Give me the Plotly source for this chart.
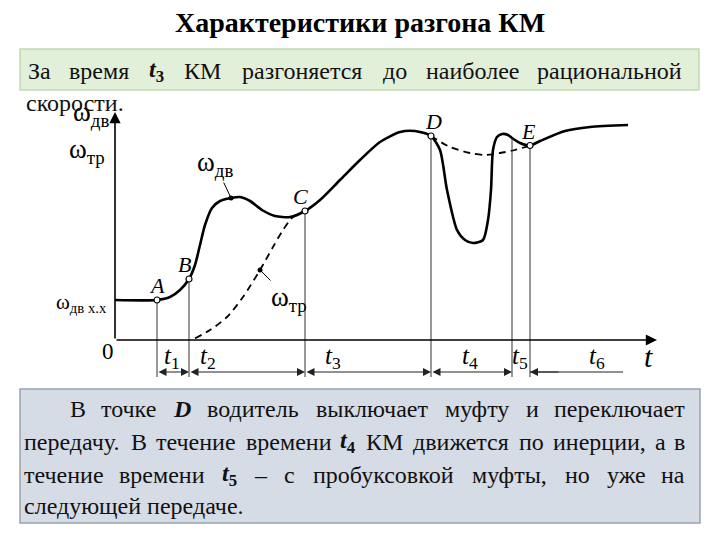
import plotly.graph_objects as go

# ---------------- data (t: time units, w: angular speed units) ----------------
t_engine = [0, 4.2, 5.5, 6.5, 7.4, 8.0, 8.5, 9.0, 9.7, 10.5, 11.6, 12.5, 13.5, 14.7,
            16.0, 17.5, 19.0, 20.5, 22.5, 24.5, 26.5, 28.5, 30.0, 31.6, 32.5, 33.2,
            34.2, 35.0, 35.8, 36.8, 37.3, 37.6, 37.8, 38.2, 38.7, 39.3, 39.7, 40.5,
            41.5, 42.5, 45.0, 47.5, 51.3]
w_engine = [4.0, 4.0, 4.3, 5.0, 6.1, 7.5, 9.5, 11.5, 13.2, 13.9, 14.2, 14.3, 13.9, 13.0,
            12.4, 12.3, 12.9, 14.0, 16.0, 18.0, 19.8, 20.8, 20.9, 20.4, 19.0, 15.0,
            11.0, 10.0, 9.7, 10.0, 12.0, 15.0, 19.0, 20.3, 20.6, 20.5, 20.2, 19.7,
            19.45, 19.9, 20.9, 21.3, 21.5]

t_trans_up = [8.0, 9.5, 11.2, 12.8, 14.5, 15.8, 16.8, 17.8, 19.0]
w_trans_up = [0.17, 1.0, 2.3, 4.3, 7.0, 9.3, 11.0, 12.3, 12.9]

t_trans_coast = [31.6, 33.5, 35.5, 37.0, 38.5, 40.0, 41.5]
w_trans_coast = [20.4, 19.3, 18.7, 18.5, 18.7, 19.0, 19.45]

point_names = ["A", "B", "C", "D", "E"]
point_t = [4.2, 7.4, 19.0, 31.6, 41.5]
point_w = [4.0, 6.1, 12.9, 20.4, 19.45]

bound_t = [4.2, 7.4, 19.0, 31.6, 39.7, 41.5]
bound_w = [4.0, 6.1, 12.9, 20.4, 20.2, 19.45]

interval_names = ["t<sub>1</sub>", "t<sub>2</sub>", "t<sub>3</sub>", "t<sub>4</sub>", "t<sub>5</sub>", "t<sub>6</sub>"]
interval_label_t = [5.7, 9.3, 21.8, 35.5, 40.5, 48.2]
dim_segments = [(4.2, 7.4), (7.4, 19.0), (19.0, 31.6), (31.6, 39.7)]
t6_segment = (41.5, 50.8)

leader_dots_t = [11.6, 14.5]
leader_dots_w = [14.2, 7.0]

title_text = "Характеристики разгона КМ"
green_words = ["За", "время", "<b><i>t</i><sub>3</sub></b>", "КМ", "разгоняется", "до",
               "наиболее", "рациональной"]
green_tail = "скорости."
blue_lines = [
    ["В", "точке", "<b><i>D</i></b>", "водитель", "выключает", "муфту", "и", "переключает"],
    ["передачу.", "В", "течение", "времени", "<b><i>t</i><sub>4</sub></b>", "КМ", "движется",
     "по", "инерции,", "а", "в"],
    ["течение", "времени", "<b><i>t</i><sub>5</sub></b>", "–", "с", "пробуксовкой", "муфты,",
     "но", "уже", "на"],
]
blue_last = "следующей передаче."

# ---------------- helpers ----------------
SERIF = "Liberation Serif, Times New Roman, DejaVu Serif, serif"
W, H = 720, 540
CW = {' ': 250, '.': 250, ',': 250, '–': 500,
      'а': 444, 'б': 509, 'в': 472, 'г': 410, 'д': 509, 'е': 444, 'ж': 691, 'з': 395,
      'и': 535, 'й': 535, 'к': 486, 'л': 499, 'м': 633, 'н': 535, 'о': 500, 'п': 535,
      'р': 500, 'с': 444, 'т': 437, 'у': 500, 'ф': 648, 'х': 500, 'ц': 535, 'ч': 503,
      'ш': 770, 'щ': 770, 'ъ': 517, 'ы': 672, 'ь': 456, 'э': 429, 'ю': 747, 'я': 486,
      'В': 667, 'К': 700, 'М': 889, 'З': 500}


def word_em(word):
    if word.startswith("<b><i>t"):
        return 0.63
    if word.startswith("<b><i>D"):
        return 0.72
    return sum(CW.get(c, 500) for c in word) / 1000.0


def px(x):
    return x / W


def py(y):
    return 1 - y / H


annotations = []


def justified(words, left, right, ycen, size):
    widths = [word_em(w) * size for w in words]
    gap = (right - left - sum(widths)) / (len(words) - 1)
    x = left
    for i, (w, wd) in enumerate(zip(words, widths)):
        if i == 0:
            xa, anchor = left, "left"
        elif i == len(words) - 1:
            xa, anchor = right, "right"
        else:
            xa, anchor = x + wd / 2, "center"
        annotations.append(dict(text=w, x=px(xa), y=py(ycen), xref="paper", yref="paper",
                                xanchor=anchor, yanchor="middle", showarrow=False,
                                font=dict(family=SERIF, size=size, color="#111")))
        x += wd + gap


fig = go.Figure()

# main engine speed curve
fig.add_trace(go.Scatter(x=t_engine, y=w_engine, mode="lines",
                         line=dict(color="black", width=2.6, shape="spline", smoothing=0.7),
                         hoverinfo="skip"))
# transmission speed (dashed)
for tt, ww in [(t_trans_up, w_trans_up), (t_trans_coast, w_trans_coast)]:
    fig.add_trace(go.Scatter(x=tt, y=ww, mode="lines",
                             line=dict(color="black", width=1.8, dash="7px,5px",
                                       shape="spline", smoothing=0.8),
                             hoverinfo="skip"))

# boundary lines
BOTTOM = -3.7
bx, by = [], []
for t, w in zip(bound_t, bound_w):
    bx += [t, t, None]
    by += [w, BOTTOM, None]
fig.add_trace(go.Scatter(x=bx, y=by, mode="lines", line=dict(color="#333", width=1),
                         hoverinfo="skip"))

# t6 plain line part
fig.add_trace(go.Scatter(x=list(t6_segment), y=[-3.2, -3.2], mode="lines",
                         line=dict(color="#222", width=1), hoverinfo="skip"))

# open circle points
fig.add_trace(go.Scatter(x=point_t, y=point_w, mode="markers",
                         marker=dict(symbol="circle", size=6, color="white",
                                     line=dict(color="black", width=1.2)),
                         hoverinfo="skip"))
# leader dots
fig.add_trace(go.Scatter(x=leader_dots_t, y=leader_dots_w, mode="markers",
                         marker=dict(symbol="circle", size=5, color="black"),
                         hoverinfo="skip"))

# axes arrows
annotations.append(dict(x=0, y=22.8, ax=0, ay=0, xref="x", yref="y", axref="x", ayref="y",
                        text="", showarrow=True, arrowhead=2, arrowsize=1.4, arrowwidth=1.6,
                        arrowcolor="black", standoff=0))
annotations.append(dict(x=54.2, y=0, ax=0, ay=0, xref="x", yref="y", axref="x", ayref="y",
                        text="", showarrow=True, arrowhead=2, arrowsize=1.4, arrowwidth=1.6,
                        arrowcolor="black", standoff=0))

# dimension arrows
for a, b in dim_segments:
    annotations.append(dict(x=b, y=-3.2, ax=a, ay=-3.2, xref="x", yref="y", axref="x",
                            ayref="y", text="", showarrow=True, arrowhead=2,
                            arrowside="end+start", arrowsize=1.6, arrowwidth=1,
                            arrowcolor="#222", standoff=0, startstandoff=0))
annotations.append(dict(x=t6_segment[0], y=-3.2, ax=t6_segment[0] + 3, ay=-3.2, xref="x",
                        yref="y", axref="x", ayref="y", text="", showarrow=True, arrowhead=2,
                        arrowsize=1.6, arrowwidth=1, arrowcolor="#222", standoff=0))


def dlabel(text, x, y, size, anchor="center", italic=False):
    if italic:
        text = "<i>" + text + "</i>"
    annotations.append(dict(text=text, x=x, y=y, xref="x", yref="y", xanchor=anchor,
                            yanchor="middle", showarrow=False,
                            font=dict(family=SERIF, size=size, color="black")))


# axis labels
dlabel("ω<sub>дв</sub>", -0.4, 22.6, 27, "right")
dlabel("ω<sub>тр</sub>", -0.8, 18.9, 27, "right")
dlabel("ω<sub>дв х.х</sub>", -0.6, 3.7, 21, "right")
dlabel("0", -0.7, -1.1, 23)
dlabel("t", 53.3, -1.6, 30, italic=True)

# point letters
letter_offsets = [(0.0, 1.5), (-0.5, 1.5), (-0.5, 1.5), (0.2, 1.5), (-0.2, 1.45)]
for n, t, w, (dx, dy) in zip(point_names, point_t, point_w, letter_offsets):
    dlabel(n, t + dx, w + dy, 22, italic=True)

# interval labels
for n, t in zip(interval_names, interval_label_t):
    annotations.append(dict(text="<i>t</i>" + n[1:], x=t, y=-1.7, xref="x", yref="y",
                            xanchor="center", yanchor="middle", showarrow=False,
                            font=dict(family=SERIF, size=25, color="black")))

# curve name labels with leaders
for txt, (tx, ty), dt, dw in [("ω<sub>дв</sub>", (10.0, 17.6), leader_dots_t[0], leader_dots_w[0]),
                              ("ω<sub>тр</sub>", (17.4, 4.1), leader_dots_t[1], leader_dots_w[1])]:
    annotations.append(dict(text=txt, x=dt, y=dw, ax=tx, ay=ty, xref="x", yref="y",
                            axref="x", ayref="y", showarrow=True, arrowhead=0,
                            arrowwidth=1, arrowcolor="black", standoff=0,
                            font=dict(family=SERIF, size=27, color="black")))

# title
annotations.append(dict(text="<b>" + title_text + "</b>", x=0.5, y=py(22), xref="paper",
                        yref="paper", xanchor="center", yanchor="middle", showarrow=False,
                        font=dict(family=SERIF, size=28, color="black")))

# green box text
justified(green_words, 26, 684, 71, 24)
annotations.append(dict(text=green_tail, x=px(24), y=py(103), xref="paper", yref="paper",
                        xanchor="left", yanchor="middle", showarrow=False,
                        font=dict(family=SERIF, size=24, color="#111")))

# blue box text
blue_y = [409, 442, 475]
justified(blue_lines[0], 68, 687, blue_y[0], 24)
justified(blue_lines[1], 22, 687, blue_y[1], 24)
justified(blue_lines[2], 22, 687, blue_y[2], 24)
annotations.append(dict(text=blue_last, x=px(22), y=py(506), xref="paper", yref="paper",
                        xanchor="left", yanchor="middle", showarrow=False,
                        font=dict(family=SERIF, size=24, color="#111")))

shapes = [
    dict(type="rect", xref="paper", yref="paper", x0=px(20), x1=px(699), y0=py(90), y1=py(49),
         fillcolor="#e2efd9", line=dict(color="#c3d9b3", width=1.5), layer="below"),
    dict(type="rect", xref="paper", yref="paper", x0=px(20), x1=px(700), y0=py(523), y1=py(389),
         fillcolor="#d6dce5", line=dict(color="#9aa3ad", width=1.5), layer="below"),
]

fig.update_layout(
    width=W, height=H, margin=dict(l=0, r=0, t=0, b=0),
    paper_bgcolor="white", plot_bgcolor="rgba(0,0,0,0)",
    showlegend=False,
    xaxis=dict(range=[-11.5, 60.5], visible=False, fixedrange=True),
    yaxis=dict(range=[-20, 34], visible=False, fixedrange=True),
    annotations=annotations, shapes=shapes,
)

fig.write_html("out.html", config={"displayModeBar": False},
               post_script="document.body.style.margin='0px';document.body.style.padding='0px';")
